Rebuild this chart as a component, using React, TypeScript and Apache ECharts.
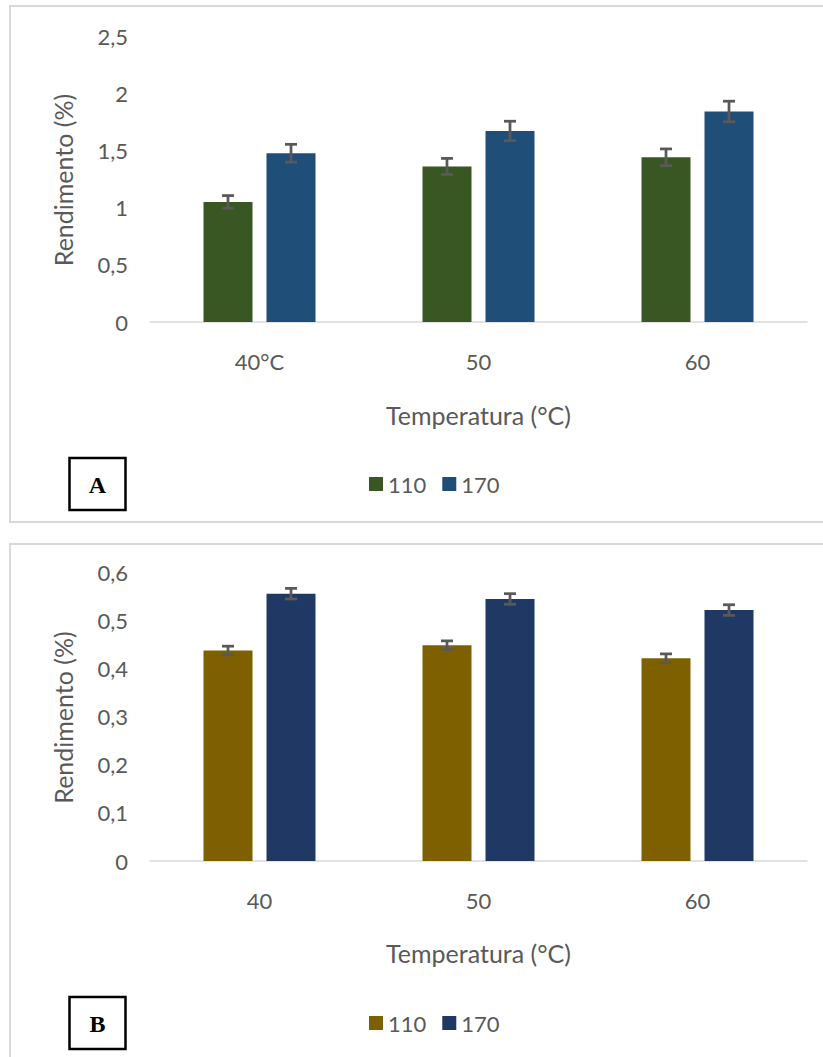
import React, { useEffect, useRef } from "react";
import * as echarts from "echarts";

// ---- data ----
const seriesNames = ["110", "170"];

const categoriesA = ["40°C", "50", "60"];
const a110 = [1.05, 1.36, 1.44];
const a110Err = [0.055, 0.07, 0.073];
const a170 = [1.475, 1.67, 1.84];
const a170Err = [0.078, 0.085, 0.09];
const yMaxA = 2.5;
const yIntervalA = 0.5;

const categoriesB = ["40", "50", "60"];
const b110 = [0.437, 0.448, 0.421];
const b110Err = [0.009, 0.009, 0.009];
const b170 = [0.555, 0.544, 0.521];
const b170Err = [0.011, 0.011, 0.011];
const yMaxB = 0.6;
const yIntervalB = 0.1;

const FONT = "Lato";
const TXT = "#595959";

type Cfg = {
  letter: string;
  categories: string[];
  v1: number[];
  e1: number[];
  v2: number[];
  e2: number[];
  colors: string[];
  yMax: number;
  yInterval: number;
  gridTop: number;
  gridHeight: number;
  borderY: number;
  borderH: number;
  legendY: number;
  boxY: number;
  xTitleY: number;
};

const BAR_W = 49;
const BAR_GAP = 14;

function errSeries(values: number[], errs: number[], sign: number) {
  return {
    type: "custom",
    z: 5,
    silent: true,
    data: values.map((v, i) => [i, v, errs[i]]),
    encode: { x: 0, y: 1 },
    renderItem: (params: any, api: any) => {
      const idx = api.value(0);
      const v = api.value(1);
      const e = api.value(2);
      const off = sign * (BAR_W / 2 + BAR_GAP / 2);
      const top = api.coord([idx, v + e]);
      const bot = api.coord([idx, v - e]);
      const x = top[0] + off;
      const cap = 6;
      const style = { stroke: "#595959", lineWidth: 2.75 };
      return {
        type: "group",
        children: [
          { type: "line", shape: { x1: x, y1: top[1], x2: x, y2: bot[1] }, style },
          { type: "line", shape: { x1: x - cap, y1: top[1], x2: x + cap, y2: top[1] }, style },
          { type: "line", shape: { x1: x - cap, y1: bot[1], x2: x + cap, y2: bot[1] }, style },
        ],
      };
    },
  };
}

function makeOption(c: Cfg) {
  const fmt = (v: number) => String(Number(v.toFixed(2))).replace(".", ",");
  const gridLeft = 150;
  const gridRight = 16;
  const plotCenter = gridLeft + (823 - gridLeft - gridRight) / 2;
  const axisTitleStyle = { fontFamily: FONT, fontSize: 25, fill: TXT };
  return {
    animation: false,
    textStyle: { fontFamily: FONT },
    grid: { left: gridLeft, right: gridRight, top: c.gridTop, height: c.gridHeight },
    legend: {
      data: seriesNames,
      left: 364,
      top: c.legendY - 16,
      icon: "rect",
      itemWidth: 14,
      itemHeight: 14,
      itemGap: 16,
      textStyle: { fontFamily: FONT, fontSize: 22, color: TXT, padding: [0, 0, 0, 0] },
      selectedMode: false,
    },
    xAxis: {
      type: "category",
      data: c.categories,
      axisLine: { lineStyle: { color: "#d9d9d9", width: 1.5 } },
      axisTick: { show: false },
      axisLabel: { fontFamily: FONT, fontSize: 22, color: TXT, margin: 28 },
    },
    yAxis: {
      type: "value",
      min: 0,
      max: c.yMax,
      interval: c.yInterval,
      splitLine: { show: false },
      axisLine: { show: false },
      axisTick: { show: false },
      axisLabel: { fontFamily: FONT, fontSize: 22, color: TXT, margin: 22, formatter: fmt },
    },
    color: c.colors,
    series: [
      {
        name: seriesNames[0],
        type: "bar",
        data: c.v1,
        barWidth: BAR_W,
        barGap: `${(BAR_GAP / BAR_W) * 100}%`,
        itemStyle: { color: c.colors[0] },
      },
      {
        name: seriesNames[1],
        type: "bar",
        data: c.v2,
        barWidth: BAR_W,
        barGap: `${(BAR_GAP / BAR_W) * 100}%`,
        itemStyle: { color: c.colors[1] },
      },
      errSeries(c.v1, c.e1, -1),
      errSeries(c.v2, c.e2, 1),
    ],
    graphic: [
      {
        type: "rect",
        silent: true,
        shape: { x: 10, y: c.borderY, width: 900, height: c.borderH },
        style: { fill: "none", stroke: "#d9d9d9", lineWidth: 2 },
      },
      {
        type: "rect",
        silent: true,
        shape: { x: 69.5, y: c.boxY, width: 56, height: 52 },
        style: { fill: "#fff", stroke: "#000", lineWidth: 2.5 },
      },
      {
        type: "text",
        silent: true,
        x: 97.5,
        y: c.boxY + 27,
        style: {
          text: c.letter,
          fontFamily: "Liberation Serif",
          fontWeight: "bold",
          fontSize: 24,
          fill: "#000",
          align: "center",
          verticalAlign: "middle",
        },
      },
      {
        type: "text",
        silent: true,
        x: 62.5,
        y: c.gridTop + c.gridHeight / 2 + 1,
        rotation: Math.PI / 2,
        style: { ...axisTitleStyle, text: "Rendimento (%)", align: "center", verticalAlign: "middle" },
      },
      {
        type: "text",
        silent: true,
        x: plotCenter,
        y: c.xTitleY,
        style: { ...axisTitleStyle, text: "Temperatura (°C)", align: "center", verticalAlign: "middle" },
      },
    ],
  };
}

const cfgA: Cfg = {
  letter: "A",
  categories: categoriesA,
  v1: a110,
  e1: a110Err,
  v2: a170,
  e2: a170Err,
  colors: ["#385723", "#1F4E79"],
  yMax: yMaxA,
  yInterval: yIntervalA,
  gridTop: 36,
  gridHeight: 286,
  borderY: 6,
  borderH: 516,
  legendY: 484,
  boxY: 458,
  xTitleY: 415,
};

const OFF_B = 530;
const cfgB: Cfg = {
  letter: "B",
  categories: categoriesB,
  v1: b110,
  e1: b110Err,
  v2: b170,
  e2: b170Err,
  colors: ["#7F6000", "#203864"],
  yMax: yMaxB,
  yInterval: yIntervalB,
  gridTop: 572 - OFF_B,
  gridHeight: 289,
  borderY: 544 - OFF_B,
  borderH: 600,
  legendY: 1023 - OFF_B,
  boxY: 997 - OFF_B,
  xTitleY: 953 - OFF_B,
};

function Chart({ cfg, top, height }: { cfg: Cfg; top: number; height: number }) {
  const ref = useRef<HTMLDivElement>(null);
  useEffect(() => {
    if (!ref.current) return;
    const chart = echarts.init(ref.current, undefined, { renderer: "svg" });
    chart.setOption(makeOption(cfg) as any);
    return () => chart.dispose();
  }, [cfg]);
  return (
    <div
      ref={ref}
      style={{ position: "absolute", left: 0, top, width: 823, height, background: "#fff" }}
    />
  );
}

export default function App() {
  return (
    <div style={{ position: "absolute", left: 0, top: 0, width: 823, height: 1057, background: "#fff", overflow: "hidden" }}>
      <Chart cfg={cfgA} top={0} height={OFF_B} />
      <Chart cfg={cfgB} top={OFF_B} height={1057 - OFF_B} />
    </div>
  );
}
